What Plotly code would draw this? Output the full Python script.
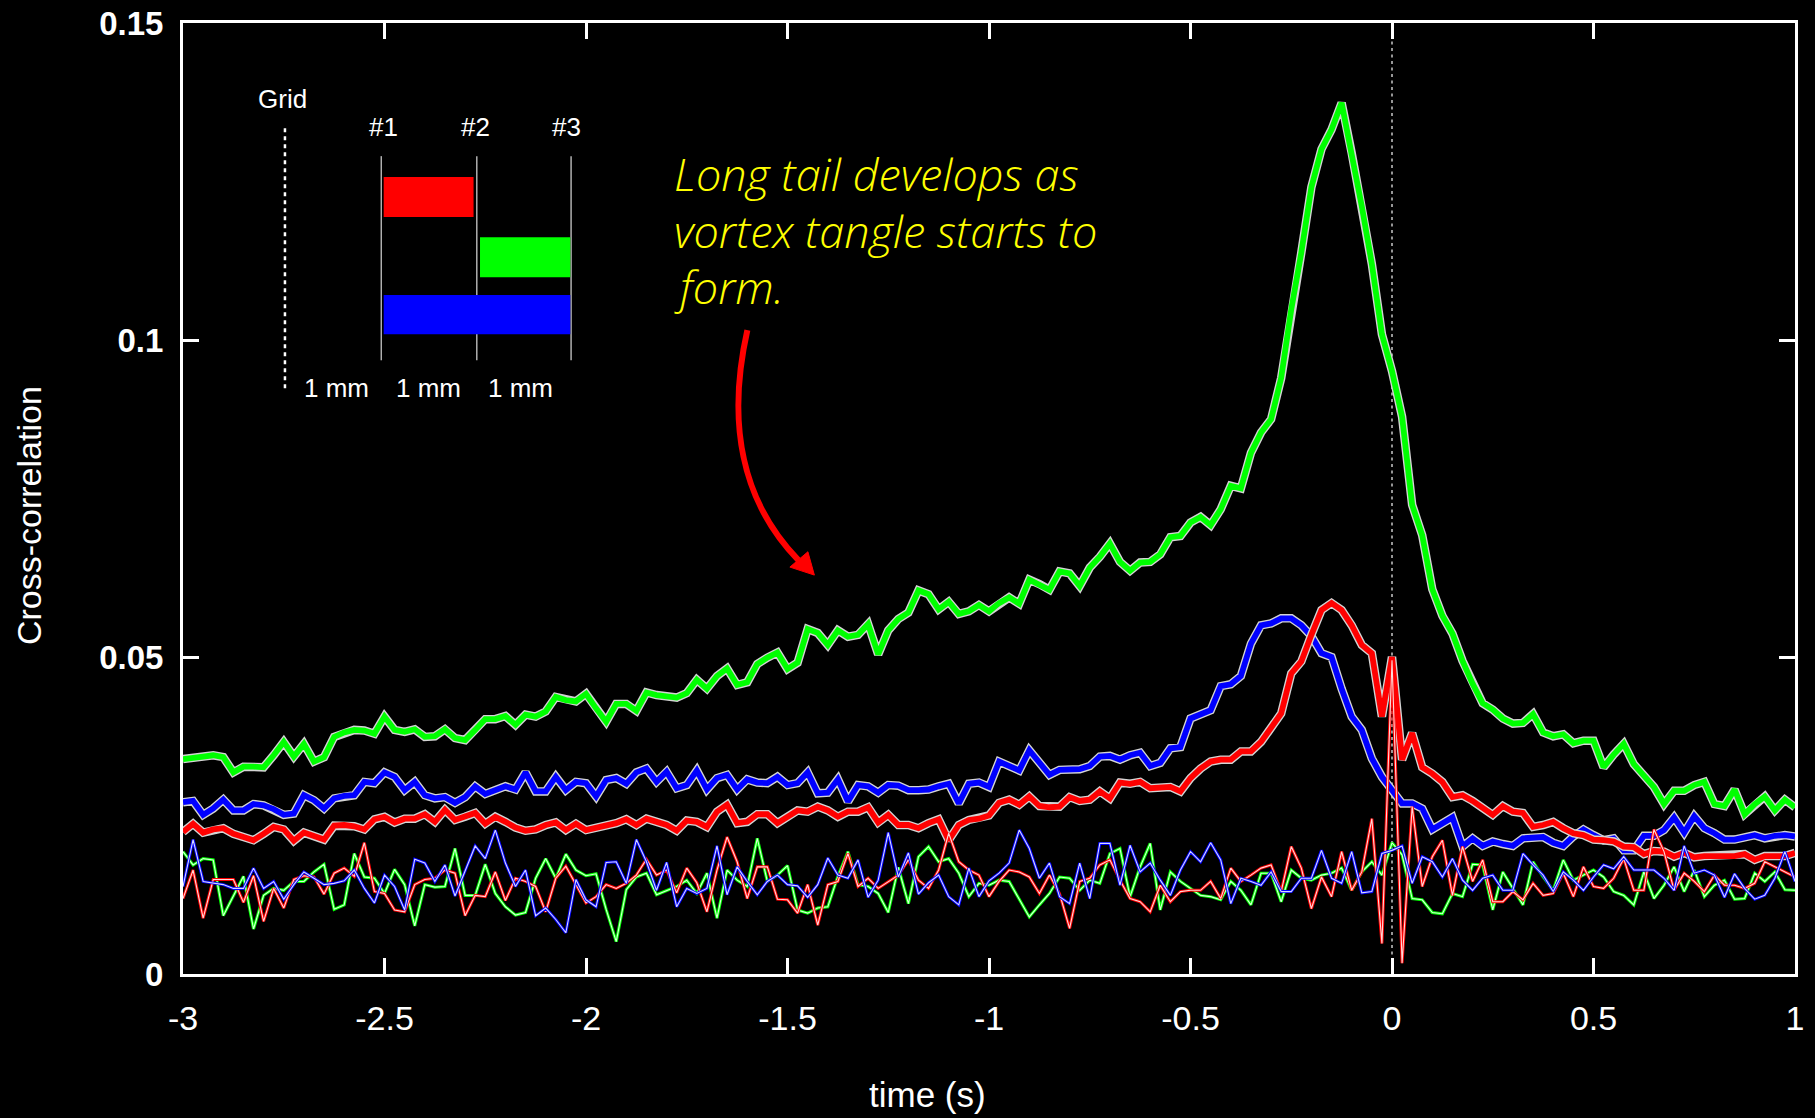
import numpy as np
import plotly.graph_objects as go

# Sample times (s): 0.025 s spacing from -3 s to 1 s
time_s = np.round(-3 + 0.025 * np.arange(161), 3)

# Cross-correlation between sensor pairs, vortex-tangle run (thick curves)
pair_12 = [  # #1-#2, red
    0.0224, 0.0237, 0.0223, 0.0228, 0.0230, 0.0221, 0.0216, 0.0211, 0.0221, 0.0232,
    0.0228, 0.0210, 0.0223, 0.0218, 0.0212, 0.0234, 0.0235, 0.0233, 0.0228, 0.0244,
    0.0248, 0.0239, 0.0245, 0.0245, 0.0252, 0.0240, 0.0259, 0.0243, 0.0248, 0.0254,
    0.0237, 0.0248, 0.0240, 0.0231, 0.0226, 0.0228, 0.0235, 0.0239, 0.0227, 0.0237,
    0.0227, 0.0230, 0.0235, 0.0238, 0.0244, 0.0235, 0.0245, 0.0240, 0.0235, 0.0226,
    0.0242, 0.0240, 0.0232, 0.0256, 0.0267, 0.0238, 0.0240, 0.0252, 0.0252, 0.0238,
    0.0248, 0.0258, 0.0256, 0.0264, 0.0258, 0.0248, 0.0256, 0.0256, 0.0263, 0.0239,
    0.0251, 0.0235, 0.0235, 0.0230, 0.0238, 0.0244, 0.0211, 0.0235, 0.0243, 0.0245,
    0.0250, 0.0270, 0.0275, 0.0267, 0.0280, 0.0265, 0.0263, 0.0264, 0.0279, 0.0273,
    0.0275, 0.0288, 0.0277, 0.0302, 0.0300, 0.0303, 0.0293, 0.0293, 0.0295, 0.0288,
    0.0309, 0.0324, 0.0335, 0.0338, 0.0338, 0.0351, 0.0351, 0.0366, 0.0387, 0.0411,
    0.0474, 0.0493, 0.0535, 0.0574, 0.0585, 0.0574, 0.0550, 0.0519, 0.0506, 0.0406,
    0.0500, 0.0338, 0.0380, 0.0326, 0.0316, 0.0303, 0.0279, 0.0282, 0.0273, 0.0263,
    0.0251, 0.0265, 0.0256, 0.0254, 0.0232, 0.0235, 0.0240, 0.0230, 0.0222, 0.0219,
    0.0212, 0.0211, 0.0209, 0.0201, 0.0200, 0.0189, 0.0194, 0.0193, 0.0185, 0.0191,
    0.0184, 0.0186, 0.0186, 0.0186, 0.0186, 0.0189, 0.0180, 0.0186, 0.0186, 0.0186,
    0.0191,
]
pair_23 = [  # #2-#3, green
    0.0339, 0.0342, 0.0343, 0.0345, 0.0342, 0.0318, 0.0327, 0.0327, 0.0326, 0.0345,
    0.0366, 0.0343, 0.0363, 0.0335, 0.0342, 0.0374, 0.0381, 0.0385, 0.0384, 0.0379,
    0.0406, 0.0385, 0.0382, 0.0386, 0.0374, 0.0375, 0.0386, 0.0372, 0.0369, 0.0385,
    0.0402, 0.0402, 0.0407, 0.0393, 0.0409, 0.0406, 0.0414, 0.0437, 0.0432, 0.0430,
    0.0442, 0.0419, 0.0398, 0.0426, 0.0426, 0.0415, 0.0444, 0.0440, 0.0438, 0.0436,
    0.0443, 0.0464, 0.0450, 0.0470, 0.0482, 0.0456, 0.0460, 0.0489, 0.0499, 0.0507,
    0.0481, 0.0491, 0.0544, 0.0538, 0.0519, 0.0542, 0.0532, 0.0535, 0.0552, 0.0504,
    0.0542, 0.0560, 0.0570, 0.0605, 0.0599, 0.0575, 0.0587, 0.0568, 0.0572, 0.0582,
    0.0572, 0.0585, 0.0594, 0.0584, 0.0622, 0.0615, 0.0606, 0.0635, 0.0632, 0.0612,
    0.0641, 0.0658, 0.0679, 0.0650, 0.0636, 0.0649, 0.0650, 0.0662, 0.0689, 0.0691,
    0.0712, 0.0721, 0.0708, 0.0733, 0.0770, 0.0766, 0.0822, 0.0854, 0.0875, 0.0940,
    0.1048, 0.1138, 0.1241, 0.1301, 0.1332, 0.1374, 0.1295, 0.1211, 0.1120, 0.1009,
    0.0951, 0.0879, 0.0740, 0.0692, 0.0607, 0.0565, 0.0537, 0.0494, 0.0458, 0.0427,
    0.0417, 0.0403, 0.0395, 0.0396, 0.0410, 0.0381, 0.0375, 0.0378, 0.0364, 0.0368,
    0.0368, 0.0326, 0.0346, 0.0363, 0.0331, 0.0314, 0.0295, 0.0268, 0.0289, 0.0289,
    0.0298, 0.0303, 0.0268, 0.0265, 0.0291, 0.0252, 0.0268, 0.0280, 0.0258, 0.0275,
    0.0263,
]
pair_13 = [  # #1-#3, blue
    0.0271, 0.0273, 0.0251, 0.0261, 0.0275, 0.0258, 0.0258, 0.0268, 0.0266, 0.0260,
    0.0251, 0.0253, 0.0282, 0.0274, 0.0261, 0.0277, 0.0281, 0.0282, 0.0303, 0.0301,
    0.0318, 0.0311, 0.0290, 0.0303, 0.0282, 0.0277, 0.0279, 0.0270, 0.0279, 0.0296,
    0.0284, 0.0290, 0.0296, 0.0291, 0.0318, 0.0288, 0.0288, 0.0311, 0.0290, 0.0303,
    0.0301, 0.0280, 0.0306, 0.0309, 0.0300, 0.0318, 0.0324, 0.0303, 0.0319, 0.0293,
    0.0298, 0.0321, 0.0291, 0.0309, 0.0314, 0.0291, 0.0307, 0.0302, 0.0301, 0.0311,
    0.0298, 0.0301, 0.0318, 0.0285, 0.0286, 0.0307, 0.0272, 0.0298, 0.0296, 0.0286,
    0.0298, 0.0297, 0.0290, 0.0290, 0.0291, 0.0296, 0.0300, 0.0269, 0.0300, 0.0302,
    0.0295, 0.0335, 0.0328, 0.0321, 0.0353, 0.0335, 0.0314, 0.0322, 0.0322, 0.0323,
    0.0328, 0.0343, 0.0344, 0.0338, 0.0345, 0.0349, 0.0328, 0.0333, 0.0356, 0.0358,
    0.0403, 0.0410, 0.0416, 0.0454, 0.0457, 0.0470, 0.0521, 0.0550, 0.0553, 0.0561,
    0.0561, 0.0550, 0.0533, 0.0506, 0.0500, 0.0450, 0.0406, 0.0385, 0.0340, 0.0311,
    0.0290, 0.0269, 0.0269, 0.0261, 0.0228, 0.0238, 0.0247, 0.0201, 0.0214, 0.0202,
    0.0209, 0.0205, 0.0202, 0.0214, 0.0216, 0.0216, 0.0207, 0.0202, 0.0217, 0.0228,
    0.0219, 0.0211, 0.0214, 0.0195, 0.0195, 0.0218, 0.0218, 0.0227, 0.0247, 0.0223,
    0.0249, 0.0230, 0.0222, 0.0212, 0.0212, 0.0215, 0.0219, 0.0214, 0.0218, 0.0219,
    0.0217,
]

# Same sensor pairs without the tangle (thin background curves)
bg_12 = [
    0.0119, 0.0164, 0.0088, 0.0149, 0.0149, 0.0149, 0.0113, 0.0155, 0.0083, 0.0135,
    0.0104, 0.0149, 0.0155, 0.0153, 0.0126, 0.0159, 0.0167, 0.0154, 0.0207, 0.0130,
    0.0127, 0.0101, 0.0098, 0.0141, 0.0149, 0.0151, 0.0164, 0.0159, 0.0092, 0.0124,
    0.0122, 0.0161, 0.0116, 0.0151, 0.0146, 0.0138, 0.0098, 0.0151, 0.0170, 0.0141,
    0.0112, 0.0122, 0.0141, 0.0135, 0.0143, 0.0156, 0.0181, 0.0156, 0.0164, 0.0128,
    0.0167, 0.0144, 0.0098, 0.0164, 0.0216, 0.0177, 0.0119, 0.0169, 0.0169, 0.0118,
    0.0117, 0.0096, 0.0141, 0.0077, 0.0141, 0.0146, 0.0190, 0.0138, 0.0151, 0.0135,
    0.0146, 0.0156, 0.0180, 0.0148, 0.0135, 0.0164, 0.0222, 0.0177, 0.0164, 0.0156,
    0.0122, 0.0146, 0.0164, 0.0161, 0.0153, 0.0127, 0.0156, 0.0127, 0.0072, 0.0146,
    0.0151, 0.0172, 0.0180, 0.0148, 0.0119, 0.0114, 0.0098, 0.0140, 0.0114, 0.0130,
    0.0132, 0.0132, 0.0146, 0.0119, 0.0167, 0.0146, 0.0156, 0.0167, 0.0172, 0.0130,
    0.0201, 0.0167, 0.0103, 0.0153, 0.0122, 0.0193, 0.0132, 0.0161, 0.0245, 0.0048,
    0.0495, 0.0017, 0.0264, 0.0138, 0.0185, 0.0211, 0.0124, 0.0201, 0.0146, 0.0180,
    0.0114, 0.0114, 0.0130, 0.0117, 0.0143, 0.0124, 0.0127, 0.0159, 0.0122, 0.0169,
    0.0138, 0.0135, 0.0151, 0.0182, 0.0132, 0.0132, 0.0228, 0.0193, 0.0132, 0.0159,
    0.0146, 0.0130, 0.0156, 0.0140, 0.0140, 0.0135, 0.0143, 0.0177, 0.0169, 0.0161,
    0.0153,
]
bg_23 = [
    0.0193, 0.0172, 0.0182, 0.0180, 0.0092, 0.0122, 0.0154, 0.0071, 0.0124, 0.0135,
    0.0132, 0.0146, 0.0146, 0.0161, 0.0173, 0.0102, 0.0109, 0.0190, 0.0153, 0.0151,
    0.0127, 0.0165, 0.0141, 0.0076, 0.0141, 0.0137, 0.0138, 0.0198, 0.0124, 0.0124,
    0.0173, 0.0127, 0.0106, 0.0093, 0.0097, 0.0151, 0.0182, 0.0151, 0.0189, 0.0164,
    0.0155, 0.0158, 0.0102, 0.0051, 0.0133, 0.0153, 0.0159, 0.0125, 0.0131, 0.0138,
    0.0148, 0.0127, 0.0159, 0.0088, 0.0164, 0.0148, 0.0138, 0.0214, 0.0146, 0.0156,
    0.0171, 0.0101, 0.0096, 0.0104, 0.0106, 0.0154, 0.0193, 0.0141, 0.0138, 0.0127,
    0.0097, 0.0168, 0.0111, 0.0185, 0.0201, 0.0177, 0.0182, 0.0159, 0.0122, 0.0143,
    0.0140, 0.0148, 0.0146, 0.0117, 0.0090, 0.0109, 0.0127, 0.0153, 0.0151, 0.0132,
    0.0148, 0.0143, 0.0190, 0.0198, 0.0122, 0.0169, 0.0206, 0.0101, 0.0161, 0.0146,
    0.0135, 0.0124, 0.0122, 0.0117, 0.0146, 0.0132, 0.0109, 0.0159, 0.0159, 0.0114,
    0.0164, 0.0151, 0.0148, 0.0156, 0.0159, 0.0167, 0.0132, 0.0161, 0.0177, 0.0156,
    0.0207, 0.0188, 0.0119, 0.0117, 0.0097, 0.0095, 0.0127, 0.0122, 0.0173, 0.0172,
    0.0101, 0.0161, 0.0135, 0.0109, 0.0177, 0.0153, 0.0132, 0.0180, 0.0148, 0.0156,
    0.0164, 0.0153, 0.0130, 0.0124, 0.0109, 0.0161, 0.0119, 0.0140, 0.0169, 0.0130,
    0.0164, 0.0122, 0.0140, 0.0148, 0.0118, 0.0119, 0.0159, 0.0146, 0.0161, 0.0133,
    0.0132,
]
bg_13 = [
    0.0138, 0.0212, 0.0146, 0.0144, 0.0141, 0.0135, 0.0135, 0.0167, 0.0135, 0.0146,
    0.0118, 0.0141, 0.0161, 0.0151, 0.0141, 0.0143, 0.0147, 0.0164, 0.0135, 0.0112,
    0.0156, 0.0138, 0.0101, 0.0181, 0.0175, 0.0146, 0.0172, 0.0123, 0.0164, 0.0202,
    0.0182, 0.0227, 0.0175, 0.0138, 0.0164, 0.0092, 0.0104, 0.0086, 0.0065, 0.0149,
    0.0117, 0.0106, 0.0176, 0.0177, 0.0143, 0.0212, 0.0177, 0.0132, 0.0176, 0.0106,
    0.0135, 0.0127, 0.0135, 0.0202, 0.0125, 0.0169, 0.0146, 0.0125, 0.0146, 0.0156,
    0.0141, 0.0139, 0.0121, 0.0141, 0.0183, 0.0156, 0.0151, 0.0180, 0.0121, 0.0148,
    0.0223, 0.0153, 0.0191, 0.0126, 0.0144, 0.0156, 0.0122, 0.0109, 0.0167, 0.0122,
    0.0147, 0.0159, 0.0175, 0.0227, 0.0198, 0.0151, 0.0175, 0.0122, 0.0111, 0.0175,
    0.0119, 0.0206, 0.0206, 0.0140, 0.0203, 0.0161, 0.0175, 0.0148, 0.0124, 0.0164,
    0.0193, 0.0177, 0.0207, 0.0180, 0.0111, 0.0151, 0.0146, 0.0140, 0.0161, 0.0130,
    0.0130, 0.0151, 0.0151, 0.0195, 0.0151, 0.0143, 0.0193, 0.0128, 0.0130, 0.0190,
    0.0195, 0.0202, 0.0143, 0.0185, 0.0177, 0.0153, 0.0182, 0.0148, 0.0132, 0.0151,
    0.0156, 0.0132, 0.0132, 0.0190, 0.0172, 0.0156, 0.0130, 0.0161, 0.0148, 0.0132,
    0.0153, 0.0172, 0.0166, 0.0185, 0.0164, 0.0164, 0.0164, 0.0151, 0.0132, 0.0202,
    0.0159, 0.0164, 0.0156, 0.0121, 0.0158, 0.0135, 0.0118, 0.0124, 0.0151, 0.0193,
    0.0146,
]

x_ticks = [-3, -2.5, -2, -1.5, -1, -0.5, 0, 0.5, 1]
x_tick_text = ["-3", "-2.5", "-2", "-1.5", "-1", "-0.5", "0", "0.5", "1"]
y_ticks = [0, 0.05, 0.1, 0.15]
y_tick_text = ["0", "0.05", "0.1", "0.15"]

note_lines = ["Long tail develops as", "vortex tangle starts to", "form."]

RED, GREEN, BLUE = "#ff0000", "#00ff00", "#0000ff"
FONT = "Liberation Sans, Arial, sans-serif"

fig = go.Figure()


def thick(y, color):
    # light halo under a solid coloured stroke
    fig.add_trace(go.Scatter(x=time_s, y=y, mode="lines", hoverinfo="skip",
                             line=dict(color="#d4d4d4", width=8.5)))
    fig.add_trace(go.Scatter(x=time_s, y=y, mode="lines",
                             line=dict(color=color, width=5.8)))


def thin(y, color):
    # coloured edges around a pale core
    fig.add_trace(go.Scatter(x=time_s, y=y, mode="lines",
                             line=dict(color=color, width=3)))
    fig.add_trace(go.Scatter(x=time_s, y=y, mode="lines", hoverinfo="skip",
                             line=dict(color="rgba(255,255,255,0.85)", width=1.1)))


thick(pair_23, GREEN)
thick(pair_13, BLUE)
thick(pair_12, RED)
thin(bg_23, GREEN)
thin(bg_12, RED)
thin(bg_13, BLUE)

shapes = [
    # dotted marker at zero lag
    dict(type="line", xref="x", yref="y", x0=0, x1=0, y0=0, y1=0.15, layer="below",
         line=dict(color="#c8c8c8", width=1.5, dash="3px,3.5px")),
    # sensor layout sketch: grid position and probe positions
    dict(type="line", xref="x", yref="y", x0=-2.747, x1=-2.747, y0=0.0924, y1=0.1334,
         line=dict(color="white", width=2.5, dash="4px,4px")),
]
for xp in (-2.508, -2.271, -2.037):
    shapes.append(dict(type="line", xref="x", yref="y", x0=xp, x1=xp, y0=0.0968, y1=0.1290,
                       line=dict(color="#b0b0b0", width=1.5)))
for (xa, xb, ya, yb, c) in [(-2.502, -2.279, 0.1194, 0.1257, RED),
                            (-2.263, -2.039, 0.1099, 0.1162, GREEN),
                            (-2.502, -2.039, 0.1009, 0.1071, BLUE)]:
    shapes.append(dict(type="rect", xref="x", yref="y", x0=xa, x1=xb, y0=ya, y1=yb,
                       fillcolor=c, line=dict(width=0)))

# curved red arrow pointing at the rising tail
shapes.append(dict(type="path", xref="x", yref="y",
                   path="M -1.5996,0.10156 C -1.6500,0.08737 -1.6170,0.07475 -1.4730,0.06529",
                   line=dict(color=RED, width=6)))
shapes.append(dict(type="path", xref="x", yref="y",
                   path="M -1.4333,0.06292 L -1.4941,0.06418 L -1.4494,0.06660 Z",
                   fillcolor=RED, line=dict(color=RED, width=1)))

annotations = []
for txt, xp, yp in [("Grid", -2.752, 0.1380), ("#1", -2.503, 0.1336), ("#2", -2.273, 0.1336),
                    ("#3", -2.049, 0.1336), ("1 mm", -2.618, 0.0924),
                    ("1 mm", -2.392, 0.0924), ("1 mm", -2.163, 0.0924)]:
    annotations.append(dict(x=xp, y=yp, xref="x", yref="y", text=txt, showarrow=False,
                            xanchor="center", yanchor="middle",
                            font=dict(family=FONT, size=26, color="white")))

for line_text, yp in zip(note_lines, (0.1263, 0.1173, 0.1084)):
    annotations.append(dict(
        x=-1.7854, y=yp, xref="x", yref="y", showarrow=False, text=line_text,
        xanchor="left", yanchor="middle", align="left",
        font=dict(family="Open Sans, sans-serif", size=45, color="#ffff00",
                  style="italic", weight=300)))

annotations.append(dict(x=-1.1527, y=-0.1272, xref="x", yref="paper", text="time (s)",
                        showarrow=False, xanchor="center", yanchor="middle",
                        font=dict(family=FONT, size=35, color="white")))
annotations.append(dict(x=-0.0955, y=0.4816, xref="paper", yref="paper",
                        text="Cross-correlation", textangle=-90, showarrow=False,
                        xanchor="center", yanchor="middle",
                        font=dict(family=FONT, size=34, color="white")))

axis_common = dict(showgrid=False, zeroline=False, showline=True, linecolor="white",
                   linewidth=3, mirror="ticks", ticks="inside", ticklen=16,
                   tickwidth=2.5, tickcolor="white", automargin=False)

fig.update_layout(
    width=1815, height=1118,
    margin=dict(l=183, r=20, t=23, b=144, autoexpand=False),
    paper_bgcolor="black", plot_bgcolor="black",
    showlegend=False,
    shapes=shapes, annotations=annotations,
    xaxis=dict(range=[-3, 1], tickvals=x_ticks, ticktext=x_tick_text,
               tickfont=dict(family=FONT, size=34, color="white"),
               ticklabelstandoff=12, **axis_common),
    yaxis=dict(range=[0, 0.15], tickvals=y_ticks, ticktext=y_tick_text,
               tickfont=dict(family=FONT, size=33, color="white", weight="bold"),
               ticklabelstandoff=10, **axis_common),
)

fig.write_html("out.html")
